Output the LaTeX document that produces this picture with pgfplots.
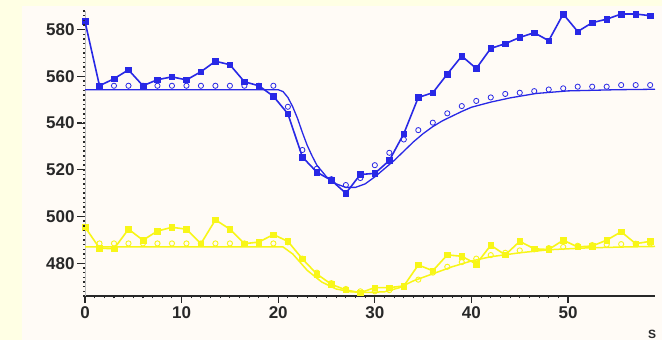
\documentclass[border=0pt]{standalone}
\usepackage{pgfplots}
\pgfplotsset{compat=1.18}
\usepackage{fontspec}
\setmainfont{Liberation Sans}
\definecolor{cream}{RGB}{255,255,228}
\definecolor{panel}{RGB}{255,251,246}
\definecolor{bl}{RGB}{40,40,230}
\definecolor{yl}{RGB}{248,246,24}
\definecolor{axc}{RGB}{40,40,40}
\begin{document}
\begin{tikzpicture}
\useasboundingbox (0,0) rectangle (662pt,340pt);
\fill[cream] (0,0) rectangle (662pt,340pt);
\fill[panel] (22pt,0) rectangle (662pt,334pt);
\node[anchor=base, inner sep=0pt, text=axc, font=\fontsize{12}{12}\selectfont\bfseries] at (652pt,1.5pt) {S};
\begin{axis}[
  scale only axis, width=570pt, height=285pt,
  at={(85pt,44pt)}, anchor=south west,
  xmin=0, xmax=59, ymin=466, ymax=588,
  axis lines*=left,
  axis line style={-},
  x axis line style={draw=axc, line width=1.3pt},
  y axis line style={draw=axc!30, line width=0.4pt},
  xtick={0,10,...,50}, ytick={480,500,...,580},
  minor x tick num=9, minor y tick num=0,
  tick align=outside,
  major tick length=7pt, minor tick length=2.5pt,
  every major tick/.style={draw=axc, line width=1.2pt, solid},
  every minor tick/.style={draw=axc, line width=1.1pt, solid},
  /pgf/number format/assume math mode=true,
  tick label style={font=\fontsize{17}{17}\selectfont\bfseries, text=axc},
  clip=false,
]
% blue smooth curve
\addplot[bl, line width=1.3pt] coordinates {
(0,554.3) (20,554.3) (20.5,553.5) (21,551) (21.5,547) (22,542) (22.5,536)
(23,530.5) (23.5,526) (24,522) (25,517) (26,514) (27,512.5) (28,512.5)
(29,514) (30,517) (31,520.5) (32,524) (33,528) (34,532) (35,535.5)
(36,538.5) (37,541) (38,543) (39,545) (40,546.8) (42,549) (44,550.8)
(46.7,552.7) (50,553.8) (55,554.3) (59,554.5)};
% blue circles
\addplot[bl, only marks, mark=o, mark size=2.6pt, mark options={line width=0.8pt, fill=panel}] coordinates {
(1.5,556) (3,556) (4.5,556) (6,556) (7.5,556) (9,556) (10.5,556) (12,556)
(13.5,556) (15,556) (16.5,556) (18,556) (19.5,556) (21,547) (22.5,528.5)
(24,520.5) (25.5,516) (27,513.5) (28.5,516.5) (30,522) (31.5,527.3)
(33,533) (34.5,537) (36,540.2) (37.5,544.2) (39,547.3) (40.5,549.5)
(42,551) (43.5,552.5) (45,553) (46.5,553.7) (48,554.4) (49.5,554.9)
(51,555.6) (52.5,555.6) (54,555.6) (55.5,556.3) (57,556.3) (58.5,556.3)};
% blue squares
\addplot[bl, line width=1.6pt, mark=square*, mark size=2.8pt, mark options={line width=0.5pt}] coordinates {
(0,583.5) (1.5,556) (3,559) (4.5,562.8) (6,556) (7.5,558.6) (9,559.8)
(10.5,558.5) (12,562) (13.5,566.5) (15,565) (16.5,557.7) (18,556)
(19.5,551.5) (21,544) (22.5,525.5) (24,519) (25.5,515.5) (27,510)
(28.5,518) (30,518.5) (31.5,524) (33,535.5) (34.5,551) (36,553)
(37.5,561) (39,568.7) (40.5,563.4) (42,572) (43.5,574) (45,576.7)
(46.5,578.7) (48,575.3) (49.5,586.7) (51,579.2) (52.5,583) (54,584.5)
(55.5,586.7) (57,586.7) (58.5,586)};
% yellow smooth curve
\addplot[yl, line width=1.5pt] coordinates {
(0,487) (20.5,487) (21.5,484) (23,477) (24.5,472) (26,469) (27.5,467.8)
(29,467.5) (31,467.8) (32.5,469.5) (34,472.5) (36,475.5) (38,478.5)
(40,481) (42,482.8) (45,484.5) (48,485.8) (52,486.6) (56,487) (59,487.2)};
% yellow circles
\addplot[yl, only marks, mark=o, mark size=2.6pt, mark options={line width=0.9pt, fill=panel}] coordinates {
(1.5,488.5) (3,488.5) (4.5,488.5) (6,488.5) (7.5,488.5) (9,488.5)
(10.5,488.5) (12,488.5) (13.5,488.5) (15,488.5) (16.5,488.5) (18,488.5)
(19.5,488.5) (21,489) (22.5,482) (24,476) (25.5,471.5) (27,469) (28.5,468)
(30,468) (31.5,468.5) (33,470) (34.5,473) (36,476) (37.5,478.5) (39,480.5)
(40.5,482) (42,483.5) (43.5,484.5) (45,485.5) (46.5,486) (48,486.5)
(49.5,487) (51,487.5) (52.5,487.8) (54,488) (55.5,488.2) (57,488.4) (58.5,488.5)};
% yellow squares
\addplot[yl, line width=1.6pt, mark=square*, mark size=2.8pt, mark options={line width=0.5pt}] coordinates {
(0,495.5) (1.5,486.5) (3,486.2) (4.5,494.6) (6,489.9) (7.5,493.8)
(9,495.4) (10.5,494.6) (12,488.4) (13.5,498.6) (15,494.6) (16.5,488.4)
(18,489.1) (19.5,492.3) (21,489.4) (22.5,481.9) (24,475.4) (25.5,471)
(27,468.6) (28.5,467.4) (30,469.6) (31.5,469.6) (33,470.3) (34.5,479.3)
(36,476.8) (37.5,483.6) (39,483) (40.5,479.7) (42,487.7) (43.5,483.6)
(45,489.4) (46.5,486.2) (48,485.9) (49.5,489.9) (51,487) (52.5,487.4)
(54,489.9) (55.5,493.5) (57,488.4) (58.5,489.4)};
\end{axis}
% y axis decoration: dotted axis and major ticks (axis at x=85pt, y=44pt + (v-466)*285/122)
\foreach \v in {466,468,...,588} {
  \pgfmathsetmacro{\yy}{44+(\v-466)*2.33607}
  \fill[axc] (83.4pt,\yy pt-0.75pt) rectangle (85.4pt,\yy pt+0.75pt);
}
\foreach \v in {480,500,...,580} {
  \pgfmathsetmacro{\yy}{44+(\v-466)*2.33607}
  \fill[axc] (76.5pt,\yy pt-0.65pt) rectangle (82pt,\yy pt+0.65pt);
}
\end{tikzpicture}
\end{document}
